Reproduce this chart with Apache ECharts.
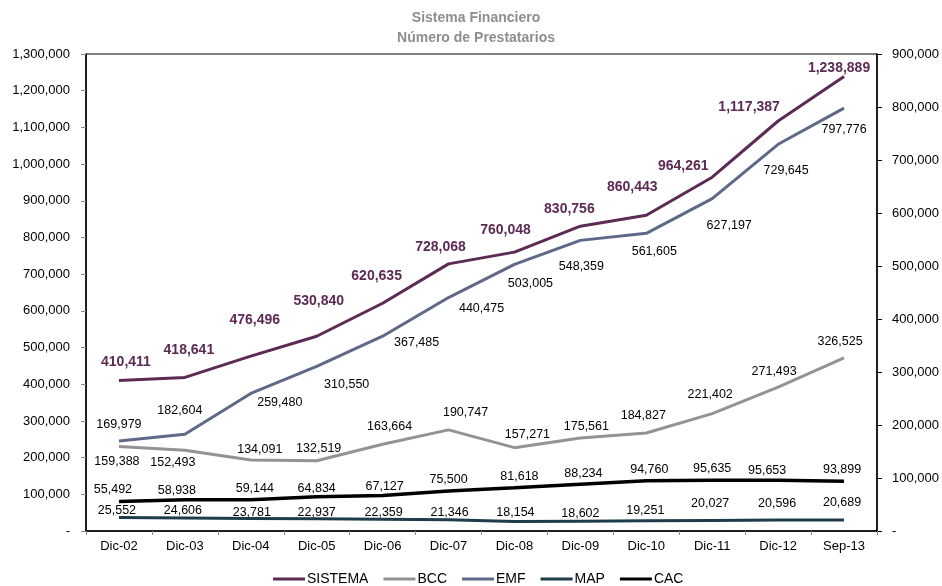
<!DOCTYPE html>
<html>
<head>
<meta charset="utf-8">
<script src="https://cdn.jsdelivr.net/npm/echarts@6/dist/echarts.min.js"></script>
<style>html,body{margin:0;padding:0;background:#fff;}#chart{width:942px;height:586px;}</style>
</head>
<body>
<div id="chart"></div>
<script>
const categories = ['Dic-02','Dic-03','Dic-04','Dic-05','Dic-06','Dic-07','Dic-08','Dic-09','Dic-10','Dic-11','Dic-12','Sep-13'];
const sistema = [410411,418641,476496,530840,620635,728068,760048,830756,860443,964261,1117387,1238889];
const bcc = [159388,152493,134091,132519,163664,190747,157271,175561,184827,221402,271493,326525];
const emf = [169979,182604,259480,310550,367485,440475,503005,548359,561605,627197,729645,797776];
const map = [25552,24606,23781,22937,22359,21346,18154,18602,19251,20027,20596,20689];
const cac = [55492,58938,59144,64834,67127,75500,81618,88234,94760,95635,95653,93899];
const leftTicks = {min:0, max:1300000, interval:100000};
const rightTicks = {min:0, max:900000, interval:100000};

// label offsets (dx, dy) relative to each point
const offSistema = [[7,-18],[4,-27],[4,-36],[2,-35],[-6,-27],[-8,-17],[-9,-22],[-11,-17],[-14,-28],[-29,-11],[-29,-14],[-5,-8]];
const offEmf = [[0,-16],[-5,-24],[29,9],[30,18],[34,6],[33,11],[16,19],[1,26],[8,18],[17,27],[8,26],[0,21]];
const offBcc = [[-2,15],[-12,12],[9,-10],[2,-12],[7,-18],[17,-17],[13,-13],[6,-11],[-3,-17],[-2,-19],[-4,-16],[-4,-16]];
const offCac = [[-6,-12],[-8,-9],[4,-11],[0,-8],[2,-9],[0,-11],[5,-11],[3,-11],[3,-11],[0,-12],[-11,-10],[-2,-12]];
const offMap = [[-2,-7],[-2,-7],[1,-6],[0,-6],[1,-7],[1,-7],[1,-9],[0,-8],[-1,-10],[-2,-17],[-1,-17],[-2,-17]];

const fmt = v => v === 0 ? '-' : v.toString().replace(/\B(?=(\d{3})+(?!\d))/g, ',');
const FONT = 'Liberation Sans, Arial, sans-serif';

function mk(name, values, offs, color, yIdx, width, labelStyle, z) {
  return {
    name: name, type: 'line', yAxisIndex: yIdx, z: z,
    symbol: 'circle', symbolSize: 0.1, showSymbol: true,
    lineStyle: {color: color, width: width},
    itemStyle: {color: color},
    data: values.map((v, i) => ({
      value: v,
      label: {offset: offs[i]}
    })),
    label: Object.assign({
      show: true, position: 'inside', align: 'center', verticalAlign: 'middle',
      fontFamily: FONT, formatter: p => fmt(p.value)
    }, labelStyle),
    emphasis: {disabled: true},
    animation: false
  };
}

const normalLbl = {color: '#000', fontSize: 12.5};
const chart = echarts.init(document.getElementById('chart'));
chart.setOption({
  backgroundColor: '#fff',
  animation: false,
  title: {
    text: 'Sistema Financiero\nNúmero de Prestatarios',
    left: 471, top: 3, textAlign: 'center',
    textStyle: {fontFamily: FONT, fontSize: 14, fontWeight: 'bold', color: '#8E8E8E', lineHeight: 20}
  },
  legend: {
    top: 567, left: 268,
    icon: 'rect', itemWidth: 32, itemHeight: 3, itemGap: 15,
    textStyle: {fontFamily: FONT, fontSize: 14, color: '#000', padding: [0,0,0,-3]},
    data: ['SISTEMA','BCC','EMF','MAP','CAC']
  },
  grid: {left: 86, right: 65, top: 54, bottom: 55, show: true, borderColor: '#000', borderWidth: 1},
  xAxis: {
    type: 'category', data: categories, boundaryGap: true,
    axisLine: {lineStyle: {color: '#000', width: 1.5}},
    axisTick: {show: true, alignWithLabel: false, length: 4, lineStyle: {color: '#888'}},
    axisLabel: {fontFamily: FONT, fontSize: 13, color: '#000', margin: 9},
    splitLine: {show: false}
  },
  yAxis: [
    {
      type: 'value', position: 'left', min: leftTicks.min, max: leftTicks.max, interval: leftTicks.interval,
      axisLine: {show: true, lineStyle: {color: '#000', width: 1.5}},
      axisTick: {show: true, length: 5, lineStyle: {color: '#888'}},
      axisLabel: {fontFamily: FONT, fontSize: 13, color: '#000', margin: 16, formatter: fmt},
      splitLine: {show: false}
    },
    {
      type: 'value', position: 'right', min: rightTicks.min, max: rightTicks.max, interval: rightTicks.interval,
      axisLine: {show: true, lineStyle: {color: '#000', width: 1.5}},
      axisTick: {show: true, length: 5, lineStyle: {color: '#000'}},
      axisLabel: {fontFamily: FONT, fontSize: 13, color: '#000', margin: 15, formatter: fmt},
      splitLine: {show: false}
    }
  ],
  series: [
    mk('SISTEMA', sistema, offSistema, '#5C2A53', 0, 3, {color: '#5C2A53', fontSize: 14, fontWeight: 'bold'}, 5),
    mk('BCC', bcc, offBcc, '#939393', 1, 3, normalLbl, 3),
    mk('EMF', emf, offEmf, '#5E6887', 1, 3, normalLbl, 4),
    mk('MAP', map, offMap, '#1E3C4A', 1, 3, normalLbl, 3),
    mk('CAC', cac, offCac, '#000000', 1, 3.5, normalLbl, 3)
  ]
});
</script>
</body>
</html>
